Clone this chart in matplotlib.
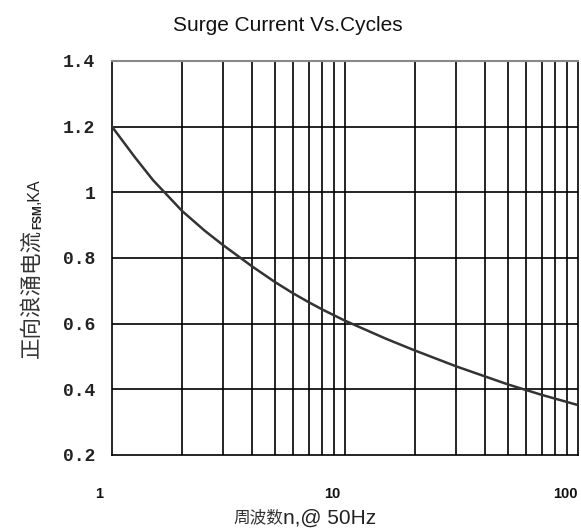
import numpy as np
import matplotlib
matplotlib.use("Agg")
from matplotlib import pyplot as plt
from matplotlib import transforms

# data
cycles = [1, 1.25, 1.5, 2, 2.5, 3, 4, 5, 6, 7, 8, 9, 10, 15, 20, 30, 50, 70, 100]
surge_ka = [1.2, 1.108, 1.037, 0.943, 0.883, 0.839, 0.774, 0.727, 0.692, 0.665,
            0.643, 0.625, 0.609, 0.554, 0.518, 0.47, 0.415, 0.383, 0.352]
x_ticks = [1, 10, 100]
x_ticklabels = ["1", "10", "100"]
y_ticks = [0.2, 0.4, 0.6, 0.8, 1.0, 1.2, 1.4]
y_ticklabels = ["0.2", "0.4", "0.6", "0.8", "1", "1.2", "1.4"]

fig = plt.figure(figsize=(5.81, 5.29), dpi=100)
ax = fig.add_axes([0.1928, 0.1399, 0.802, 0.7448])

ax.set_xscale("log")
ax.set_xlim(1, 100)
ax.set_ylim(0.2, 1.4)

# grid: every integer cycle on log axis, every 0.2 on y
minor = [m * d for d in (1, 10) for m in range(2, 10)]
for xv in minor + [10]:
    ax.axvline(xv, color="black", lw=1.2, zorder=1)
for yv in y_ticks[1:-1]:
    ax.axhline(yv, color="black", lw=1.2, zorder=1)

ax.plot(cycles, surge_ka, color="#333333", lw=1.8, zorder=3)

ax.set_xticks(x_ticks)
ax.set_xticklabels(x_ticklabels, fontsize=10.5, family="Liberation Sans", weight="bold")
ax.set_xticks([], minor=True)
ax.set_yticks(y_ticks)
ax.set_yticklabels(y_ticklabels, fontsize=13, family="Liberation Mono", weight="bold")
ax.tick_params(axis="x", length=0, pad=23, colors="#111111")
ax.tick_params(axis="y", length=0, pad=12, colors="#222222")

# x tick labels sit a bit left of their grid lines in the original
shift = transforms.ScaledTranslation(-0.125, 0, fig.dpi_scale_trans)
for lab in ax.get_xticklabels():
    lab.set_transform(lab.get_transform() + shift)

for side in ["left", "right", "bottom"]:
    ax.spines[side].set_color("black")
    ax.spines[side].set_linewidth(1.2)
ax.spines["top"].set_color("#888888")
ax.spines["top"].set_linewidth(1.5)

fig.text(0.496, 0.951, "Surge Current Vs.Cycles", ha="center", va="center",
         fontsize=15, family="Liberation Sans", color="#111111")

# x label: chinese part then latin part
x1 = fig.text(233 / 581, 0.021, "周波数", ha="left", va="center",
              fontsize=12, family=["Noto Sans CJK SC", "DejaVu Sans"], color="#333333")
fig.canvas.draw()
xb = x1.get_window_extent().transformed(fig.transFigure.inverted())
fig.text(xb.x1, 0.021, "n,@ 50Hz", ha="left", va="center",
         fontsize=15, family="Liberation Sans", color="#222222")

# y label in pieces: chinese text, subscript FSM, then ",KA"
t1 = fig.text(0.054, 1 - 358 / 529, "正向浪涌电流", rotation=90, ha="center", va="bottom",
              fontsize=15.5, family=["Noto Sans CJK SC", "DejaVu Sans"], color="#333333")
fig.canvas.draw()
bb = t1.get_window_extent().transformed(fig.transFigure.inverted())
t2 = fig.text(0.066, bb.y1, "FSM", rotation=90, ha="center", va="bottom",
              fontsize=8.5, family="Liberation Sans", weight="bold", color="#222222")
fig.canvas.draw()
bb2 = t2.get_window_extent().transformed(fig.transFigure.inverted())
fig.text(0.058, bb2.y1, ",KA", rotation=90, ha="center", va="bottom",
         fontsize=11.5, family="Liberation Sans", color="#222222")

fig.savefig("out.png", dpi=100)
